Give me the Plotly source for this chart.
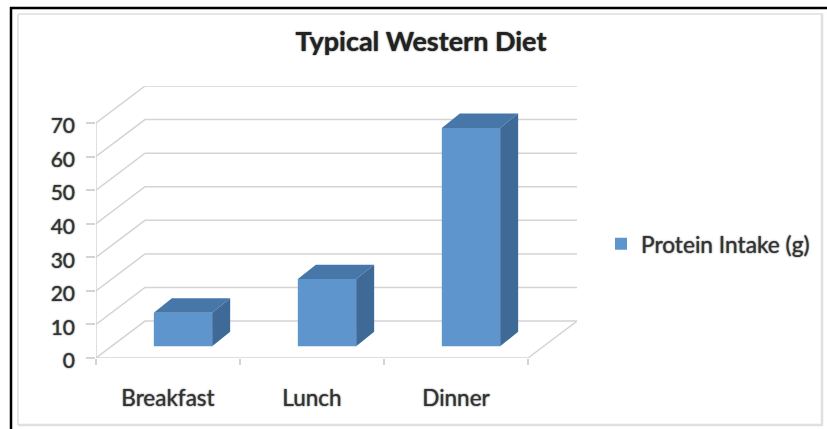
import plotly.graph_objects as go

W, H = 827, 429

categories = ["Breakfast", "Lunch", "Dinner"]
protein_intake = [10, 20, 65]
y_ticks = [0, 10, 20, 30, 40, 50, 60, 70]
title_text = "Typical Western Diet"
series_name = "Protein Intake (g)"

# Oblique projection, in data units: 1 x unit = one category, 1 y unit = one gram
WALL_DX, WALL_DY = 49 / 144, 11.0     # depth of the floor
BAR_WIDTH = 0.405
BAR_DX, BAR_DY = 18 / 144, 4.3        # depth of a bar
BAR_X0, BAR_Y0 = 15 / 144, 3.5        # where a bar's front stands on the floor

FRONT = "#5e95cd"
TOP = "#4677a8"
SIDE = "#3f6a97"
GRID = "#d4d4d4"
TEXT = "#333333"
FONT = "Lato"
BLUR = "0 0 1.5px rgba(30,30,30,0.9)"
LABEL_DROP = 3  # the reference prints its value labels slightly below their ticks

left = -0.5
right = len(categories) - 0.5

fig = go.Figure()

def data_path(xs, ys):
    d = "M" + " L".join(f"{x},{y}" for x, y in zip(xs, ys))
    return dict(type="path", path=d, xref="x", yref="y", layer="below",
                line=dict(color=GRID, width=1.5))

wall_shapes = []
# walls: gridlines running along the side wall and the back wall
for v in y_ticks[1:]:
    wall_shapes.append(data_path([left, left + WALL_DX, right + WALL_DX],
                                 [v, v + WALL_DY, v + WALL_DY]))
# floor
wall_shapes.append(data_path([left, left + WALL_DX, right + WALL_DX, right, left],
                             [0, WALL_DY, WALL_DY, 0, 0]))
# front vertical axis
wall_shapes.append(data_path([left, left], [0, y_ticks[-1]]))

# bar front faces
fig.add_trace(go.Bar(
    x=[i + BAR_X0 for i in range(len(categories))],
    y=protein_intake,
    base=[BAR_Y0] * len(categories),
    width=BAR_WIDTH,
    name=series_name,
    marker=dict(color=FRONT, line=dict(width=0)),
    showlegend=True,
))

# bar top and side faces, computed from the values
for i, v in enumerate(protein_intake):
    x0 = i + BAR_X0 - BAR_WIDTH / 2
    x1 = i + BAR_X0 + BAR_WIDTH / 2
    y0 = BAR_Y0
    y1 = BAR_Y0 + v
    fig.add_trace(go.Scatter(
        x=[x0, x1, x1 + BAR_DX, x0 + BAR_DX, x0],
        y=[y1, y1, y1 + BAR_DY, y1 + BAR_DY, y1],
        mode="lines", fill="toself", fillcolor=TOP, line=dict(width=0, color=TOP),
        showlegend=False, hoverinfo="skip"))
    fig.add_trace(go.Scatter(
        x=[x1, x1 + BAR_DX, x1 + BAR_DX, x1, x1],
        y=[y0, y0 + BAR_DY, y1 + BAR_DY, y1, y0],
        mode="lines", fill="toself", fillcolor=SIDE, line=dict(width=0, color=SIDE),
        showlegend=False, hoverinfo="skip"))

# invisible trace that keeps the label axis alive
fig.add_trace(go.Scatter(x=[left], y=[y_ticks[0]], yaxis="y2", mode="markers",
                         marker=dict(opacity=0), showlegend=False, hoverinfo="skip"))

def frame(x0, y0, x1, y1, color, width):
    return dict(type="line", xref="paper", yref="paper",
                x0=x0 / W, x1=x1 / W, y0=1 - y0 / H, y1=1 - y1 / H,
                line=dict(color=color, width=width), layer="below")

fig.update_layout(
    width=W, height=H,
    margin=dict(l=0, r=0, t=0, b=0),
    paper_bgcolor="white", plot_bgcolor="rgba(0,0,0,0)",
    font=dict(family=FONT, color=TEXT, size=22),
    barmode="overlay",
    title=dict(text="<b>" + title_text + "</b>", x=421 / W, xanchor="center",
               y=1 - 42 / H, yanchor="middle",
               font=dict(size=27, family=FONT, color="#222222", shadow=BLUR)),
    xaxis=dict(domain=[96 / W, 577 / W], range=[left, right + WALL_DX], automargin=False,
               tickmode="array", tickvals=list(range(len(categories))), ticktext=categories,
               ticks="", showgrid=False, zeroline=False, showline=False, ticklabelstandoff=24,
               tickfont=dict(size=22.5, shadow=BLUR),
               minor=dict(tickmode="array", tickvals=[left + i for i in range(len(categories) + 1)],
                          ticks="outside", ticklen=6, tickcolor=GRID, tickwidth=1.5, showgrid=False)),
    yaxis=dict(domain=[1 - 358 / H, 1 - 86 / H], range=[0, y_ticks[-1] + WALL_DY], automargin=False,
               tickmode="array", tickvals=y_ticks, showticklabels=False,
               ticks="outside", ticklen=9, tickcolor=GRID, tickwidth=1.5,
               showgrid=False, zeroline=False, showline=False),
    yaxis2=dict(domain=[1 - (358 + LABEL_DROP) / H, 1 - (86 + LABEL_DROP) / H],
                range=[0, y_ticks[-1] + WALL_DY], automargin=False, anchor="x",
                tickmode="array", tickvals=y_ticks, ticks="", ticklabelstandoff=20,
                showgrid=False, zeroline=False, showline=False,
                tickfont=dict(size=21, shadow=BLUR)),
    legend=dict(x=601 / W, y=1 - 244 / H, xanchor="left", yanchor="middle",
                font=dict(size=22.7, shadow=BLUR), bgcolor="rgba(0,0,0,0)"),
    shapes=[
        frame(10, 8, 827, 8, "#000000", 2.5),
        frame(11, 7, 11, 429, "#000000", 2.5),
        frame(18, 14, 823, 14, "#e6e6e6", 2),
        frame(18, 14, 18, 425, "#e6e6e6", 2),
        frame(822, 14, 822, 425, "#e0e0e0", 2.5),
        frame(18, 425, 823, 425, "#e0e0e0", 2.5),
    ] + wall_shapes,
)

fig.write_html("out.html", config={"displayModeBar": False},
               post_script="document.body.style.margin='0';document.body.style.overflow='hidden';")
